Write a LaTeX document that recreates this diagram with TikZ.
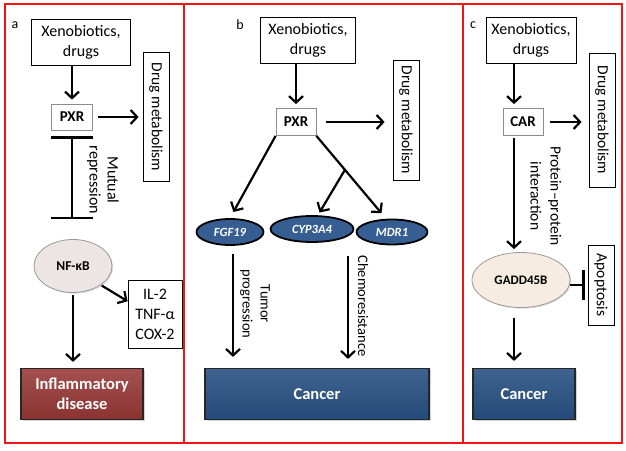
\documentclass[tikz,border=0pt]{standalone}
\usepackage{fontspec}
\setmainfont{Carlito}
\usetikzlibrary{arrows.meta,calc,shadows,shapes.geometric}

\definecolor{framered}{RGB}{240,20,20}
\definecolor{disred}{RGB}{150,56,54}
\definecolor{cancblue}{RGB}{38,78,128}
\definecolor{geneblue}{RGB}{55,94,146}
\definecolor{nfkbfill}{RGB}{237,229,229}
\definecolor{gaddfill}{RGB}{246,236,226}

\begin{document}
\begin{tikzpicture}[x=1pt,y=-1pt,
  every node/.style={font=\fontsize{16}{20}\selectfont},
  plain/.style={draw, line width=0.8pt, align=center, inner sep=0pt},
  recep/.style={draw=black!45, line width=0.8pt, inner sep=0pt, minimum width=40pt, minimum height=27pt, font=\fontsize{15}{16}\selectfont\bfseries},
  metab/.style={rotate=-90, minimum height=26pt, font=\fontsize{15.5}{16}\selectfont},
  cell/.style={ellipse, draw=black!40, line width=0.8pt, inner sep=0pt, font=\fontsize{13.5}{14}\selectfont\bfseries, drop shadow={opacity=0.25, shadow xshift=1.2pt, shadow yshift=-1.2pt}},
  gene/.style={ellipse, draw=black, line width=1.8pt, fill=geneblue, text=white, inner sep=0pt, font=\fontsize{12.5}{13}\selectfont\bfseries\itshape},
  outcome/.style={draw=black!85, line width=1.2pt, text=white, align=center, inner sep=0pt, minimum height=51pt, font=\fontsize{16.5}{20}\selectfont\bfseries, drop shadow={opacity=0.35, shadow xshift=1.5pt, shadow yshift=-1.5pt}},
  cancer/.style={outcome, top color=cancblue!88!white, bottom color=cancblue!95!black},
  arr/.style={line width=2.2pt, -{Straight Barb[length=6.5pt,width=14pt]}},
  inhib/.style={line width=2.4pt, {Bar[width=42pt]}-{Bar[width=42pt]}},
  rotlab/.style={rotate=-90, align=center, font=\fontsize{14.5}{18}\selectfont},
  panel/.style={draw=framered, line width=2pt},
  tag/.style={font=\fontsize{14}{14}\selectfont}
]
\useasboundingbox (0,0) rectangle (626,450);

%%%%% frames %%%%%
\draw[panel] (5,4) rectangle (184,443);
\draw[panel] (184,4) rectangle (463,443);
\draw[panel] (463,4) rectangle (622,443);

%%%%% panel a %%%%%
\node[tag] (laba) at (15,25) {a};
\node[plain, minimum width=99pt, minimum height=46pt] (xena) at (81,42) {Xenobiotics,\\drugs};
\node[recep, minimum width=41pt, minimum height=26pt] (pxra) at (72,117) {PXR};
\node[plain, metab, minimum width=129pt] (meta) at (156,117) {Drug metabolism};
\node[cell, fill=nfkbfill, minimum width=78pt, minimum height=53pt] (nfkb) at (73,266) {NF-κB};
\node[plain, minimum width=54pt, minimum height=68pt] (cyto) at (155,314) {IL-2\\TNF-α\\COX-2};
\node[outcome, top color=disred!88!white, bottom color=disred!92!black, minimum width=122pt] (infl) at (82,394) {Inflammatory\\disease};
\node[rotlab, font=\fontsize{16}{18}\selectfont] (mutlab) at (103,180) {Mutual\\repression};

\draw[arr, shorten >=4pt] (pxra.north |- xena.south) -- (pxra.north);
\draw[arr, shorten <=5pt, shorten >=4pt] (pxra.east) -- (pxra.east -| meta.south);
\draw[inhib, shorten <=6pt, shorten >=20pt] (pxra.south) -- (pxra.south |- nfkb.north);
\draw[arr, shorten <=1pt] (nfkb.south east) -- (cyto.155);
\draw[arr, shorten <=2pt, shorten >=6pt] (nfkb.south) -- (nfkb.south |- infl.north);

%%%%% panel b %%%%%
\node[tag] (labb) at (240,25) {b};
\node[plain, minimum width=95pt, minimum height=46pt] (xenb) at (308,40) {Xenobiotics,\\drugs};
\node[recep] (pxrb) at (296,122) {PXR};
\node[plain, metab, minimum width=120pt] (metb) at (406,120) {Drug metabolism};
\node[gene, minimum width=67pt, minimum height=26pt] (fgf) at (230,232) {FGF19};
\node[gene, minimum width=83pt, minimum height=26pt] (cyp) at (312,229) {CYP3A4};
\node[gene, minimum width=71pt, minimum height=25pt] (mdr) at (392,232) {MDR1};
\node[cancer, minimum width=224pt] (cancb) at (317,394) {Cancer};
\node[rotlab] (tumlab) at (255,304) {Tumor\\progression};
\node[rotlab] (chemlab) at (363,306) {Chemoresistance};

\coordinate (mdrtop) at ([xshift=-6pt]mdr.north);
\coordinate (fork) at ($(pxrb.south east)!0.41!(mdrtop)$);
\coordinate (chemotop) at ($(cyp.south)!0.45!(mdr.south)$);

\draw[arr, shorten >=4pt] (pxrb.north |- xenb.south) -- (pxrb.north);
\draw[arr, shorten <=10pt, shorten >=8pt] (pxrb.east) -- (pxrb.east -| metb.south);
\draw[arr, shorten >=7pt] (pxrb.south west) -- (fgf.north);
\draw[arr, shorten >=7pt] (pxrb.south east) -- (mdrtop);
\draw[arr, shorten >=3pt] (fork) -- ([xshift=6pt]cyp.north);
\draw[arr, shorten <=8pt, shorten >=11pt] ([xshift=3pt]fgf.south) -- ([xshift=3pt]fgf.south |- cancb.north);
\draw[arr, shorten <=12pt, shorten >=9pt] (chemotop) -- (chemotop |- cancb.north);

%%%%% panel c %%%%%
\node[tag] (labc) at (473,25) {c};
\node[plain, minimum width=90pt, minimum height=46pt] (xenc) at (531,40) {Xenobiotics,\\drugs};
\node[recep] (carc) at (523,122) {CAR};
\node[plain, metab, minimum width=134pt] (metc) at (602,120) {Drug metabolism};
\node[cell, fill=gaddfill, minimum width=98pt, minimum height=55pt, font=\fontsize{13}{14}\selectfont\bfseries] (gadd) at (521,280) {GADD45B};
\node[plain, metab, minimum width=80pt] (apop) at (601,285) {Apoptosis};
\node[cancer, minimum width=102pt] (cancc) at (524,394) {Cancer};
\node[rotlab, font=\fontsize{15.5}{20}\selectfont] (pplab) at (546,196) {Protein\textendash protein\\interaction};

\coordinate (cline) at (514,0);

\draw[arr, shorten >=4pt] (cline |- xenc.south) -- (cline |- carc.north);
\draw[arr, shorten <=7pt, shorten >=7pt] (carc.east) -- (carc.east -| metc.south);
\draw[arr, shorten <=2pt, shorten >=3pt] (cline |- carc.south) -- (cline |- gadd.north);
\draw[line width=2.4pt, -{Bar[width=30pt]}, shorten >=3pt] (gadd.east |- apop.south) -- (apop.south);
\draw[arr, shorten <=10pt, shorten >=7pt] (cline |- gadd.south) -- (cline |- cancc.north);
\end{tikzpicture}
\end{document}
